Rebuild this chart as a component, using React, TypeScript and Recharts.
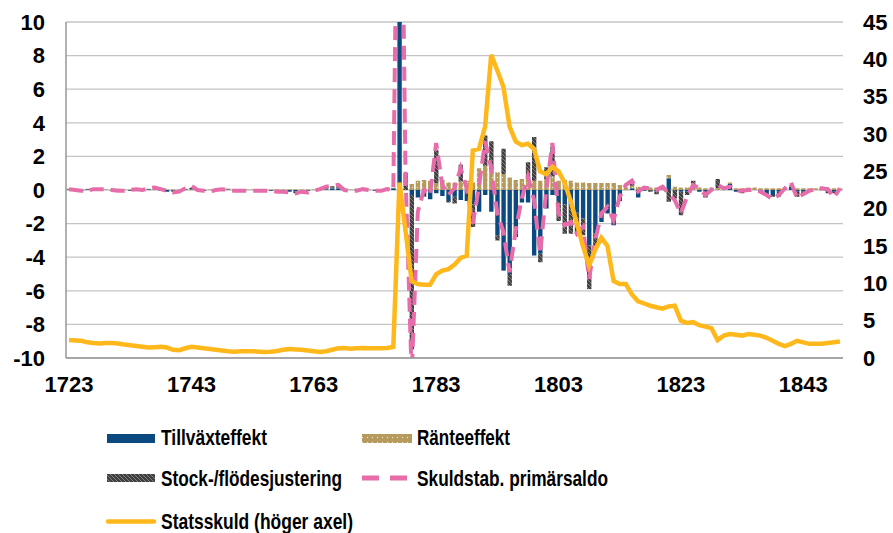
import React from "react";
import { ComposedChart, Bar, Line, XAxis, YAxis, CartesianGrid } from "recharts";

const years = [
  1723, 1724, 1725, 1726, 1727, 1728, 1729, 1730, 1731, 1732,
  1733, 1734, 1735, 1736, 1737, 1738, 1739, 1740, 1741, 1742,
  1743, 1744, 1745, 1746, 1747, 1748, 1749, 1750, 1751, 1752,
  1753, 1754, 1755, 1756, 1757, 1758, 1759, 1760, 1761, 1762,
  1763, 1764, 1765, 1766, 1767, 1768, 1769, 1770, 1771, 1772,
  1773, 1774, 1775, 1776, 1777, 1778, 1779, 1780, 1781, 1782,
  1783, 1784, 1785, 1786, 1787, 1788, 1789, 1790, 1791, 1792,
  1793, 1794, 1795, 1796, 1797, 1798, 1799, 1800, 1801, 1802,
  1803, 1804, 1805, 1806, 1807, 1808, 1809, 1810, 1811, 1812,
  1813, 1814, 1815, 1816, 1817, 1818, 1819, 1820, 1821, 1822,
  1823, 1824, 1825, 1826, 1827, 1828, 1829, 1830, 1831, 1832,
  1833, 1834, 1835, 1836, 1837, 1838, 1839, 1840, 1841, 1842,
  1843, 1844, 1845, 1846, 1847, 1848, 1849,
];

// Tillväxteffekt (left axis)
const growth = [
  0, -0.05, 0, 0.05, 0, -0.05, 0, 0, 0.05, 0,
  -0.05, 0, 0, 0.05, 0, -0.05, -0.1, -0.05, 0, 0.05,
  0, -0.05, 0, 0, 0.05, 0, 0, -0.05, 0, 0,
  0, 0, 0, -0.05, 0, -0.05, -0.1, -0.1, 0, -0.05,
  0, 0, 0.05, 0.1, 0.1, 0, 0, -0.05, 0, 0,
  -0.05, 0, 0.05, 0.1, 30, 0, -0.3, -0.45, -0.3, -0.55,
  -0.2, -0.35, -0.65, -0.4, -0.6, -0.65, -0.85, -1.3, -0.3, -1.3,
  -2.7, -4.8, -5.0, -2.2, -0.75, -0.75, -3.9, -3.8, -1.1, -0.3,
  -0.65, -0.85, -1.0, -1.35, -1.7, -3.3, -2.6, -1.9, -1.4, -2.1,
  -0.65, 0, 0.1, -0.45, -0.05, 0, -0.1, 0, 0.7, 0,
  -0.1, -0.1, 0, -0.1, -0.1, 0, 0, 0, 0.35, -0.1,
  -0.1, 0, 0, -0.1, -0.25, -0.3, -0.1, 0, 0.2, -0.1,
  -0.1, 0, 0, 0.1, -0.1, -0.1, 0,
];

// Ränteeffekt (left axis)
const interest = [
  0.03, 0.03, 0.03, 0.03, 0.03, 0.03, 0.03, 0.03, 0.03, 0.03,
  0.03, 0.03, 0.03, 0.03, 0.03, 0.03, 0.03, 0.03, 0.03, 0.03,
  0.03, 0.03, 0.03, 0.03, 0.03, 0.03, 0.03, 0.03, 0.03, 0.03,
  0.03, 0.03, 0.03, 0.03, 0.03, 0.03, 0.03, 0.03, 0.03, 0.03,
  0.03, 0.03, 0.03, 0.03, 0.03, 0.03, 0.03, 0.03, 0.03, 0.03,
  0.03, 0.03, 0.03, 0.05, 0, 0, 0.35, 0.55, 0.6, 0.55,
  0.4, 0.6, 0.45, 0.45, 0.5, 0.55, 0.45, 1.3, 1.45, 1.2,
  1.05, 0.95, 0.75, 0.6, 0.65, 0.65, 0.55, 0.55, 0.65, 0.8,
  0.55, 0.6, 0.55, 0.45, 0.45, 0.42, 0.42, 0.42, 0.42, 0.42,
  0.3, 0.2, 0.15, 0.2, 0.2, 0.15, 0.15, 0.25, 0.2, 0.2,
  0.15, 0.15, 0.1, 0.15, 0.1, 0.15, 0.1, 0.1, 0.1, 0.1,
  0.1, 0.15, 0.15, 0.1, 0.1, 0.1, 0.1, 0.1, 0.1, 0.1,
  0.1, 0.1, 0.1, 0.1, 0.1, 0.1, 0.1,
];

// Stock-/flödesjustering (left axis)
const stockFlow = [
  0.05, 0, -0.05, 0, 0.05, 0, 0, -0.05, 0, 0,
  0, 0.05, 0, 0, 0.05, 0, 0, -0.05, -0.05, 0,
  0.1, 0, -0.05, 0, 0, 0, 0.05, 0, 0, 0,
  0, 0, -0.05, 0, -0.05, 0, 0, -0.1, -0.05, 0,
  0, 0.05, 0.1, 0.1, 0.15, 0, 0, 0.05, 0, 0,
  0, 0, 0.05, 0, 0, 1.0, -9.2, 0, -0.1, 0,
  2.0, 0, -0.1, -0.4, 1.0, 0, -1.35, 0, 1.8, 1.7,
  -0.3, 1.5, -0.7, -0.6, 0, 1.0, 2.6, -0.5, 0.7, 1.8,
  -1.2, -1.75, -1.6, -1.2, -1.0, -2.6, -0.8, 0, 0, 0,
  0, 0, 0.1, 0, 0, -0.1, -0.15, 0, -0.7, -0.5,
  -1.4, -0.2, 0.45, 0, -0.35, 0, 0.55, 0, 0, 0,
  -0.1, 0, 0, 0, 0, -0.1, -0.3, 0, 0, -0.3,
  -0.1, 0, 0, 0, -0.1, -0.1, 0,
];

// Skuldstab. primärsaldo (left axis)
const primaryBalance = [
  0.05, 0.0, -0.05, -0.05, 0.05, 0.05, 0.05, 0.0, -0.05, -0.05,
  0.0, 0.05, 0.0, 0.1, 0.15, 0.05, -0.05, -0.15, -0.1, 0.1,
  0.25, 0.0, -0.05, -0.1, 0.0, 0.05, 0.0, -0.05, -0.05, -0.05,
  -0.05, -0.05, -0.05, -0.05, -0.1, -0.1, -0.15, -0.2, -0.1, -0.15,
  -0.05, 0.05, 0.2, 0.25, 0.3, 0.0, -0.05, -0.05, 0.05, 0.0,
  -0.05, -0.05, 0.05, 0.0, 30, 0.8, -11, -1.3, 0.0, -0.3,
  2.8, 0.3, -0.3, 0.1, 1.3, 0.1, -2.0, 0.2, 2.9, 1.3,
  -1.4, -2.5, -4.9, -2.4, -0.5, 0.8, -0.6, -3.8, 0.0, 2.8,
  -1.4, -2.1, -1.9, -2.6, -2.2, -5.3, -3.0, -1.4, -1.0, -1.8,
  -0.4, 0.3, 0.55, -0.1, 0.15, 0.1, 0.0, 0.2, -0.2, -0.6,
  -1.4, -0.4, 0.3, 0.1, -0.3, 0.0, 0.3, 0.1, 0.2, -0.05,
  -0.05, 0.0, 0.0, -0.1, -0.3, -0.55, -0.3, 0.1, 0.45, -0.5,
  -0.25, -0.05, 0.05, 0.1, 0.05, -0.45, 0.1,
];

// Statsskuld (right axis)
const debt = [
  2.4, 2.35, 2.3, 2.1, 2.0, 1.95, 2.0, 2.0, 1.95, 1.8,
  1.7, 1.6, 1.5, 1.4, 1.45, 1.5, 1.4, 1.1, 1.05, 1.3,
  1.5, 1.4, 1.3, 1.2, 1.1, 1.0, 0.9, 0.85, 0.9, 0.9,
  0.9, 0.85, 0.8, 0.85, 0.95, 1.1, 1.2, 1.15, 1.1, 1.0,
  0.9, 0.8, 0.9, 1.1, 1.3, 1.35, 1.25, 1.3, 1.35, 1.3,
  1.3, 1.3, 1.35, 1.5, 23.5, 17.0, 10.3, 9.9, 9.8, 9.8,
  11.2, 11.7, 11.9, 12.5, 13.4, 13.7, 27.8, 28.0, 31.0, 40.6,
  38.5, 36.3, 31.0, 29.0, 28.5, 28.7, 28.0, 25.0, 24.6, 25.6,
  25.0, 23.5, 21.0, 18.0, 15.0, 12.4, 14.5, 16.1, 15.0, 10.3,
  9.9, 9.9, 8.5, 7.6, 7.3, 7.0, 6.8, 6.6, 6.9, 7.0,
  5.0, 4.7, 4.8, 4.4, 4.2, 4.0, 2.4, 3.0, 3.2, 3.1,
  3.0, 3.2, 3.1, 3.0, 2.7, 2.3, 1.9, 1.6, 1.9, 2.3,
  2.1, 1.9, 1.9, 1.9, 2.0, 2.1, 2.2,
];

const leftTicks = [-10, -8, -6, -4, -2, 0, 2, 4, 6, 8, 10];
const rightTicks = [0, 5, 10, 15, 20, 25, 30, 35, 40, 45];

const legendLabels = [
  "Tillväxteffekt",
  "Ränteeffekt",
  "Stock-/flödesjustering",
  "Skuldstab. primärsaldo",
  "Statsskuld (höger axel)",
];

const data = years.map((y, i) => ({
  year: y,
  growth: growth[i],
  interest: interest[i],
  stockFlow: stockFlow[i],
  primaryBalance: primaryBalance[i],
  debt: debt[i],
}));

const NAVY = "#0B4A80";
const PINK = "#E66DAA";
const YELLOW = "#FFB81C";
const FONT = "'Liberation Sans', Arial, sans-serif";

const tickStyle = { fontSize: 22, fontWeight: 700, fill: "#000", fontFamily: FONT };

export default function App() {
  const legTop = 400;
  const textStyle: React.CSSProperties = { fontSize: 22, fontWeight: 700, fontFamily: FONT, fill: "#000" };
  return (
    <div style={{ position: "absolute", left: 0, top: 0, width: 893, height: 533, background: "#fff", overflow: "hidden" }}>
      <ComposedChart
        width={893}
        height={400}
        data={data}
        margin={{ top: 22, right: 0, bottom: 0, left: 0 }}
        stackOffset="sign"
        barCategoryGap="14%"
      >
        <CartesianGrid yAxisId="left" vertical={false} stroke="#c4c4c4" strokeWidth={1.3} />
        <XAxis
          dataKey="year"
          interval={19}
          tickLine={false}
          tickSize={0}
          tickMargin={18}
          height={42}
          axisLine={{ stroke: "#999", strokeWidth: 1.3 }}
          tick={tickStyle}
        />
        <YAxis
          yAxisId="left"
          domain={[-10, 10]}
          ticks={leftTicks}
          allowDataOverflow
          width={66}
          tickLine={false}
          tickSize={0}
          tickMargin={21}
          axisLine={{ stroke: "#888", strokeWidth: 1.3 }}
          tick={tickStyle}
        />
        <YAxis
          yAxisId="right"
          orientation="right"
          domain={[0, 45]}
          ticks={rightTicks}
          allowDataOverflow
          width={50}
          tickLine={false}
          tickSize={0}
          tickMargin={20}
          axisLine={false}
          tick={tickStyle}
        />
        <Bar yAxisId="left" dataKey="growth" stackId="s" barSize={4.4} fill={NAVY} isAnimationActive={false} />
        <Bar yAxisId="left" dataKey="interest" stackId="s" barSize={4.4} fill="url(#tanDots)" isAnimationActive={false} />
        <Bar yAxisId="left" dataKey="stockFlow" stackId="s" barSize={4.4} fill="url(#grayHatch)" isAnimationActive={false} />
        <Line
          yAxisId="left"
          type="linear"
          dataKey="primaryBalance"
          stroke={PINK}
          strokeWidth={4}
          strokeDasharray="14 7"
          dot={false}
          isAnimationActive={false}
        />
        <Line
          yAxisId="right"
          type="linear"
          dataKey="debt"
          stroke={YELLOW}
          strokeWidth={4.5}
          dot={false}
          isAnimationActive={false}
        />
      </ComposedChart>
      <svg
        width={893}
        height={533 - legTop}
        style={{ position: "absolute", left: 0, top: legTop }}
      >
        <defs>
          <pattern id="tanDots" patternUnits="userSpaceOnUse" width={5} height={5}>
            <rect width={5} height={5} fill="#B49A5C" />
            <circle cx={2.5} cy={2.5} r={0.7} fill="#EDE3C6" />
          </pattern>
          <pattern id="grayHatch" patternUnits="userSpaceOnUse" width={4} height={4}>
            <rect width={4} height={4} fill="#404040" />
            <path d="M0,0 L4,4 M-1,3 L1,5 M3,-1 L5,1" stroke="#8f8f8f" strokeWidth={0.8} />
          </pattern>
        </defs>
        <g transform={`translate(0,${-legTop})`}>
          <rect x={107} y={434} width={48} height={9} fill={NAVY} />
          <text x={161} y={444.5} style={textStyle} textLength={106} lengthAdjust="spacingAndGlyphs">
            {legendLabels[0]}
          </text>
          <rect x={362} y={434} width={50} height={9} fill="url(#tanDots)" />
          <text x={417} y={444.5} style={textStyle} textLength={93} lengthAdjust="spacingAndGlyphs">
            {legendLabels[1]}
          </text>
          <rect x={107} y={474} width={48} height={8} fill="url(#grayHatch)" />
          <text x={161} y={485.5} style={textStyle} textLength={181} lengthAdjust="spacingAndGlyphs">
            {legendLabels[2]}
          </text>
          <line x1={362} y1={478} x2={407} y2={478} stroke={PINK} strokeWidth={5} strokeDasharray="17 11" />
          <text x={417} y={485.5} style={textStyle} textLength={191} lengthAdjust="spacingAndGlyphs">
            {legendLabels[3]}
          </text>
          <line x1={108} y1={521.5} x2={154} y2={521.5} stroke={YELLOW} strokeWidth={4.5} strokeLinecap="round" />
          <text x={161} y={529} style={textStyle} textLength={192} lengthAdjust="spacingAndGlyphs">
            {legendLabels[4]}
          </text>
        </g>
      </svg>
    </div>
  );
}
